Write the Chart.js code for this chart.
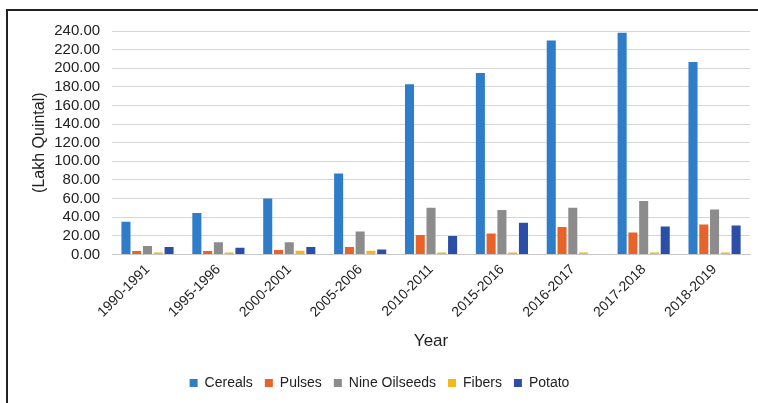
<!DOCTYPE html>
<html>
<head>
<meta charset="utf-8">
<script src="https://cdn.jsdelivr.net/npm/chart.js@4/dist/chart.umd.min.js"></script>
<style>
html,body{margin:0;padding:0;background:#fff;}
#wrap{position:relative;width:758px;height:403px;overflow:hidden;}
#frame{position:absolute;left:6px;top:9px;width:800px;height:500px;border-top:2px solid #222;border-left:2px solid #222;}
canvas{position:absolute;left:0;top:0;}
</style>
</head>
<body>
<div id="wrap">
<div id="frame"></div>
<canvas id="c" width="758" height="403"></canvas>
</div>
<script>
const years = ["1990-1991","1995-1996","2000-2001","2005-2006","2010-2011","2015-2016","2016-2017","2017-2018","2018-2019"];
const cereals  = [35.0, 44.4, 60.0, 87.0, 182.7, 194.8, 229.8, 238.0, 206.6];
const pulses   = [3.5, 3.5, 4.6, 8.0, 20.7, 22.5, 29.3, 23.6, 32.2];
const oilseeds = [9.0, 13.0, 13.0, 24.5, 50.0, 47.6, 50.0, 57.3, 48.3];
const fibers   = [2.0, 2.0, 4.0, 4.0, 2.0, 2.0, 2.0, 2.0, 2.0];
const potato   = [8.0, 7.0, 8.0, 5.3, 19.7, 34.0, 0.0, 30.0, 31.0];
const seriesNames = ["Cereals","Pulses","Nine Oilseeds","Fibers","Potato"];
const colors = ["#2f7cc9","#e8632a","#8c8c8c","#f2b81c","#2b4ea6"];
const yTicks = [0,20,40,60,80,100,120,140,160,180,200,220,240];

const data = [cereals, pulses, oilseeds, fibers, potato];
new Chart(document.getElementById('c'), {
  type: 'bar',
  data: {
    labels: years,
    datasets: seriesNames.map((n,i)=>({
      label: n, data: data[i], backgroundColor: colors[i],
      categoryPercentage: 0.76, barPercentage: 0.84
    }))
  },
  options: {
    responsive: false,
    animation: false,
    devicePixelRatio: 1,
    layout: {padding: {left: 9, right: 8, top: 31, bottom: 3}},
    plugins: {
      legend: {
        position: 'bottom',
        labels: {boxWidth: 8, boxHeight: 8, font: {family: 'Liberation Sans', size: 14}, color: '#222', padding: 12}
      },
      tooltip: {enabled: false}
    },
    scales: {
      x: {
        grid: {display: false, drawTicks: false},
        border: {display: true, color: '#c8c8c8'},
        ticks: {maxRotation: 45, minRotation: 45, font: {family: 'Liberation Sans', size: 14}, color: '#222', padding: 7},
        title: {display: true, text: 'Year', font: {family: 'Liberation Sans', size: 17}, color: '#222', padding: {top: 4, bottom: 12}}
      },
      y: {
        min: 0, max: 240,
        afterBuildTicks: (ax)=>{ ax.ticks = yTicks.map(v=>({value:v})); },
        grid: {color: '#d6d6d6', drawTicks: false},
        border: {display: false},
        ticks: {autoSkip: false, font: {family: 'Liberation Sans', size: 15}, color: '#222', padding: 12,
          callback: v => Number(v).toFixed(2)},
        title: {display: true, text: '(Lakh Quintal)', font: {family: 'Liberation Sans', size: 16}, color: '#222', padding: {top: 21, bottom: -7}}
      }
    }
  }
});
</script>
</body>
</html>
